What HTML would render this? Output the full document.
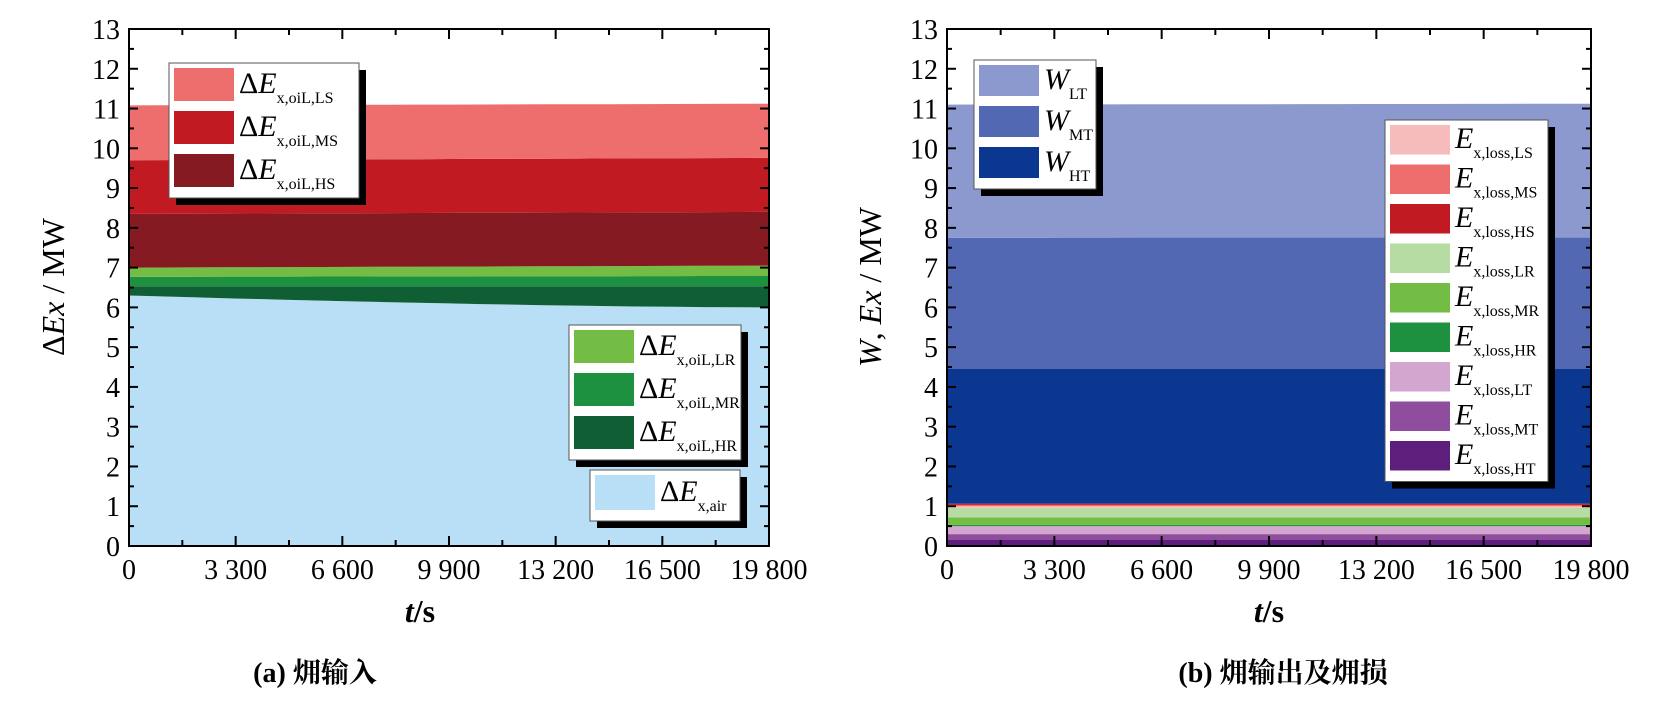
<!DOCTYPE html>
<html><head><meta charset="utf-8">
<style>
html,body{margin:0;padding:0;background:#fff;}
svg{display:block;}
text{font-family:"Liberation Serif","Noto Serif CJK SC",serif;fill:#000;}
</style></head>
<body>
<svg id="s" width="1654" height="709" viewBox="0 0 1654 709" xmlns="http://www.w3.org/2000/svg"></svg>
<script>
const S=document.getElementById('s');let h='';
const Y0=546,YT=29,U=(Y0-YT)/13;
function yv(v){return Y0-v*U;}
function band(x0,x1,b0,b1,t0,t1,c){
  const n=20;let p=[];
  for(let i=0;i<=n;i++){const f=i/n;const tv=typeof t1==='function'?t1(f):t0+(t1-t0)*f;p.push([x0+(x1-x0)*f,yv(tv)]);}
  for(let i=n;i>=0;i--){const f=i/n;const bv=typeof b1==='function'?b1(f):b0+(b1-b0)*f;p.push([x0+(x1-x0)*f,yv(bv)]);}
  h+=`<polygon fill="${c}" points="${p.map(q=>q[0].toFixed(1)+','+q[1].toFixed(1)).join(' ')}"/>`;
}
function axes(x0,x1){
  h+=`<rect x="${x0}" y="${YT}" width="${x1-x0}" height="${Y0-YT}" fill="none" stroke="#000" stroke-width="2"/>`;
  for(let i=0;i<=26;i++){const y=Y0-i*U/2;const L=i%2?5:9;
    h+=`<line x1="${x0}" x2="${x0+L}" y1="${y}" y2="${y}" stroke="#000" stroke-width="2"/><line x1="${x1}" x2="${x1-L}" y1="${y}" y2="${y}" stroke="#000" stroke-width="2"/>`;
    if(i%2==0)h+=`<text x="${x0-9}" y="${y+10}" font-size="28" text-anchor="end">${i/2}</text>`;}
  const labs=['0','3 300','6 600','9 900','13 200','16 500','19 800'];
  for(let i=0;i<=12;i++){const x=x0+(x1-x0)*i/12;const L=i%2?6:10;
    h+=`<line x1="${x}" x2="${x}" y1="${Y0}" y2="${Y0-L}" stroke="#000" stroke-width="2"/><line x1="${x}" x2="${x}" y1="${YT}" y2="${YT+L}" stroke="#000" stroke-width="2"/>`;
    if(i%2==0)h+=`<text x="${x}" y="${Y0+33}" font-size="28" text-anchor="middle">${labs[i/2]}</text>`;}
}
function legend(x,y,w,rows,pitch,fs,pre){
  const H=rows.length*pitch+6;
  h+=`<rect x="${x+7}" y="${y+7}" width="${w}" height="${H}" fill="#000"/><rect x="${x}" y="${y}" width="${w}" height="${H}" fill="#fff" stroke="#555" stroke-width="1"/>`;
  rows.forEach((r,i)=>{const ry=y+5+i*pitch;
    h+=`<rect x="${x+5}" y="${ry}" width="60" height="${pitch-10}" fill="${r[0]}"/>`;
    h+=`<text x="${x+70}" y="${ry+pitch*0.58}" font-size="${fs}">${pre}<tspan font-style="italic">${r[2]||'E'}</tspan><tspan font-size="16" dy="10">${r[1]}</tspan></text>`;});
}
const L0=129,L1=769;
const air=f=>6.3-0.3*(1-Math.pow(1-f,1.6));
band(L0,L1,0,0,0,air,'#b8dff6');
band(L0,L1,0,air,6.53,6.53,'#0f5e34');
band(L0,L1,6.53,6.53,6.77,6.79,'#1e9140');
band(L0,L1,6.77,6.79,7.0,7.05,'#73bd45');
band(L0,L1,7.0,7.05,8.35,8.4,'#851a22');
band(L0,L1,8.35,8.4,9.7,9.76,'#c11a23');
band(L0,L1,9.7,9.76,11.08,11.12,'#ee6e6e');
axes(L0,L1);
legend(169,63,190,[['#ee6e6e','x,oiL,LS'],['#c11a23','x,oiL,MS'],['#851a22','x,oiL,HS']],43,30,'Δ');
legend(569,325,172,[['#73bd45','x,oiL,LR'],['#1e9140','x,oiL,MR'],['#0f5e34','x,oiL,HR']],43,30,'Δ');
legend(590,470,150,[['#b8dff6','x,air']],45,30,'Δ');
h+=`<text x="420" y="622" font-size="32" font-weight="bold" text-anchor="middle"><tspan font-style="italic">t</tspan>/s</text>`;
h+=`<text transform="translate(64,287) rotate(-90)" font-size="32" text-anchor="middle">Δ<tspan font-style="italic">Ex</tspan> / MW</text>`;
h+=`<text x="315" y="682" font-size="28" font-weight="bold" text-anchor="middle">(a) 㶲输入</text>`;
const R0=947,R1=1591;
const layers=[[0,0.15,'#5e1f7c'],[0.15,0.3,'#8f4d9d'],[0.3,0.5,'#d3a6d0'],[0.5,0.53,'#1e9140'],[0.53,0.72,'#73bd45'],[0.72,0.96,'#b6dca3'],[0.96,1.0,'#f6bcbc'],[1.0,1.03,'#ee6e6e'],[1.03,1.06,'#d9262b'],[1.06,4.45,'#0b3791'],[4.45,7.75,'#5368b3'],[7.75,11.1,'#8b99cf']];
layers.forEach(l=>band(R0,R1,l[0],l[0],l[1],l[1]+(l[1]>1.1?0.02:0),l[2]));
axes(R0,R1);
legend(974,60,122,[['#8b99cf','LT','W'],['#5368b3','MT','W'],['#0b3791','HT','W']],41,30,'');
legend(1385,120,163,[['#f6bcbc','x,loss,LS'],['#ee6e6e','x,loss,MS'],['#c11a23','x,loss,HS'],['#b6dca3','x,loss,LR'],['#73bd45','x,loss,MR'],['#1e9140','x,loss,HR'],['#d3a6d0','x,loss,LT'],['#8f4d9d','x,loss,MT'],['#5e1f7c','x,loss,HT']],39.5,30,'');
h+=`<text x="1269" y="622" font-size="32" font-weight="bold" text-anchor="middle"><tspan font-style="italic">t</tspan>/s</text>`;
h+=`<text transform="translate(881,287) rotate(-90)" font-size="32" text-anchor="middle"><tspan font-style="italic">W</tspan>, <tspan font-style="italic">Ex</tspan> / MW</text>`;
h+=`<text x="1283" y="682" font-size="28" font-weight="bold" text-anchor="middle">(b) 㶲输出及㶲损</text>`;
S.innerHTML=h;
</script>
</body></html>
